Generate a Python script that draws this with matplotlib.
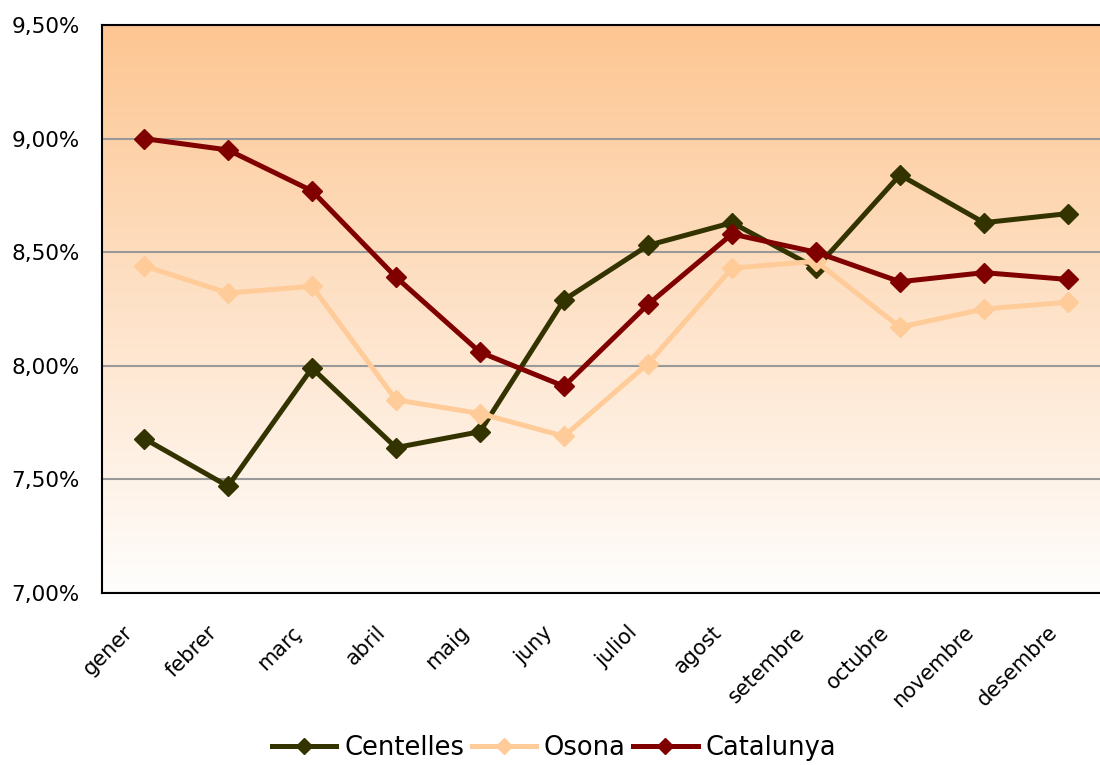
import numpy as np
from matplotlib import pyplot as plt
from matplotlib.colors import LinearSegmentedColormap
from matplotlib.ticker import FuncFormatter
from matplotlib.transforms import ScaledTranslation

months = ['gener', 'febrer', 'març', 'abril', 'maig', 'juny',
          'juliol', 'agost', 'setembre', 'octubre', 'novembre', 'desembre']

centelles = [7.68, 7.47, 7.99, 7.64, 7.71, 8.29, 8.53, 8.63, 8.43, 8.84, 8.63, 8.67]
osona = [8.44, 8.32, 8.35, 7.85, 7.79, 7.69, 8.01, 8.43, 8.46, 8.17, 8.25, 8.28]
catalunya = [9.00, 8.95, 8.77, 8.39, 8.06, 7.91, 8.27, 8.58, 8.50, 8.37, 8.41, 8.38]

series = [('Centelles', centelles, '#333300'),
          ('Osona', osona, '#ffcc99'),
          ('Catalunya', catalunya, '#800000')]

plt.rcParams['font.family'] = 'DejaVu Sans'

fig = plt.figure(figsize=(11, 7.65), dpi=100)
ax = fig.add_axes([102 / 1100, 172 / 765, 1008 / 1100, 568 / 765])

# background gradient: peach at top, fading to white
grad = LinearSegmentedColormap.from_list('bg', ['#fffefd', '#fee2c8', '#fdc692'])
ax.imshow(np.linspace(0, 1, 256).reshape(-1, 1), aspect='auto', cmap=grad,
          extent=[0, 1, 0, 1], transform=ax.transAxes, origin='lower', zorder=0)

x = np.arange(len(months))
for name, vals, col in series:
    ax.plot(x, vals, color=col, lw=3.6, marker='D', ms=10, label=name, zorder=3)

ax.set_xlim(-0.5, 11.5)
ax.set_ylim(7.0, 9.5)
ax.set_yticks([7.0, 7.5, 8.0, 8.5, 9.0, 9.5])
ax.yaxis.set_major_formatter(FuncFormatter(lambda v, p: f'{v:.2f}%'.replace('.', ',')))
ax.grid(axis='y', color='#999999', lw=1.5, zorder=1)
ax.set_axisbelow(True)

ax.set_xticks(x)
ax.set_xticklabels(months, rotation=45, ha='right', rotation_mode='anchor', fontsize=15)
ax.tick_params(axis='x', length=0, pad=21)
ax.tick_params(axis='y', length=0, pad=16, labelsize=15.5)
shift = ScaledTranslation(-21 / 100, 0, fig.dpi_scale_trans)
for lab in ax.get_xticklabels():
    lab.set_transform(lab.get_transform() + shift)

for s in ['left', 'top', 'bottom']:
    ax.spines[s].set_linewidth(1.5)
    ax.spines[s].set_color('black')
ax.spines['right'].set_visible(False)

fig.legend(loc='center', bbox_to_anchor=(554 / 1100, 1 - 748 / 765), ncol=3, frameon=False,
           fontsize=18.5, handlelength=2.5, handletextpad=0.3, columnspacing=0.3,
           numpoints=1, markerscale=0.8)

fig.savefig('out.png', dpi=100)
